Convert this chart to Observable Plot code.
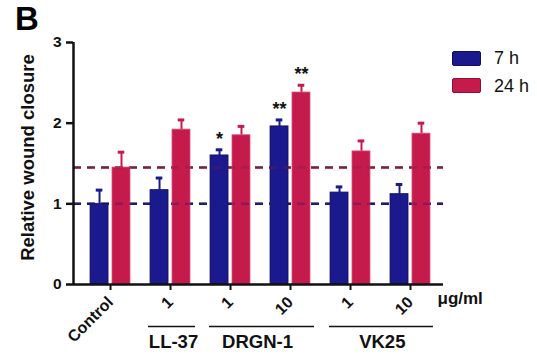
<!DOCTYPE html>
<html><head><meta charset="utf-8">
<script src="https://cdn.jsdelivr.net/npm/d3@7"></script>
<script src="https://cdn.jsdelivr.net/npm/@observablehq/plot@0.6"></script>
<style>
body{margin:0;background:#fff;font-family:"Liberation Sans",Arial,sans-serif;}
#wrap{position:relative;width:537px;height:357px;}
#B{position:absolute;left:15px;top:2px;font-weight:bold;font-size:33px;line-height:33px;z-index:2;}
.lg{position:absolute;left:452px;width:29px;height:15px;border-radius:2px;z-index:2;}
.lt{position:absolute;left:494px;font-size:18px;line-height:18px;color:#111;z-index:2;}
</style></head>
<body><div id="wrap"><div id="B">B</div>
<div class="lg" style="top:51px;background:#1a1a8e;border:1px solid #10105a;box-sizing:border-box"></div>
<div class="lt" style="top:49px">7 h</div>
<div class="lg" style="top:78px;background:#c51a4c;border:1px solid #8a1034;box-sizing:border-box"></div>
<div class="lt" style="top:77px">24 h</div>
</div>
<script>
const categories = ["Control", "1", "1", "10", "1", "10"];
const series = ["7 h", "24 h"];
const mean7 = [1.00, 1.17, 1.60, 1.96, 1.14, 1.12];
const err7  = [1.17, 1.32, 1.67, 2.04, 1.21, 1.24];
const mean24 = [1.45, 1.92, 1.85, 2.38, 1.65, 1.87];
const err24  = [1.64, 2.04, 1.96, 2.47, 1.78, 2.00];
const stars7 = ["", "", "*", "**", "", ""];
const stars24 = ["", "", "", "**", "", ""];
const groups = ["LL-37", "DRGN-1", "VK25"];
const groupStart = [0.633, 1.65, 3.65];
const groupEnd = [1.417, 3.4, 5.383];
const groupLabelX = [1.05, 2.45, 4.53];
const refLines = [1.0, 1.45];
const yTicks = [0, 1, 2, 3];

const blue = "#1a1a8e", red = "#c51a4c";
const rows = [];
categories.forEach((c, i) => {
  rows.push({i, s: 0, v: mean7[i], e: err7[i], star: stars7[i]});
  rows.push({i, s: 1, v: mean24[i], e: err24[i], star: stars24[i]});
});
const cx = d => d.i + (d.s === 0 ? -0.183 : 0.183);
const col = d => d.s === 0 ? blue : red;
const idx = categories.map((c, i) => i);

const chart = Plot.plot({
  width: 537, height: 357,
  marginLeft: 73, marginRight: 94, marginTop: 42, marginBottom: 73,
  style: {fontFamily: "Liberation Sans, Arial, sans-serif", background: "transparent"},
  x: {type: "linear", domain: [-0.617, 5.55], axis: null},
  y: {type: "linear", domain: [0, 3], axis: null},
  marks: [
    Plot.ruleY([refLines[0]], {stroke: "#1c1c6a", strokeWidth: 2.5, strokeDasharray: "8,6"}),
    Plot.ruleY([refLines[1]], {stroke: "#7a2040", strokeWidth: 2.5, strokeDasharray: "8,6"}),
    Plot.ruleX(rows, {x: cx, y1: "v", y2: "e", stroke: col, strokeWidth: 2}),
    Plot.ruleY(rows, {y: "e", x1: d => cx(d) - 0.055, x2: d => cx(d) + 0.055, stroke: col, strokeWidth: 3}),
    Plot.rectY(rows, {x1: d => d.i + (d.s === 0 ? -0.333 : 0.033), x2: d => d.i + (d.s === 0 ? -0.033 : 0.333), y1: d => 0, y2: "v", fill: col, stroke: d => d.s === 0 ? "#10105a" : "#e0507a", strokeWidth: 0.8}),
    Plot.ruleY(refLines.slice(0,1), {stroke: "#1c1c6a", strokeOpacity: 0.35, strokeWidth: 2.5, strokeDasharray: "8,6"}),
    Plot.ruleY(refLines.slice(1), {stroke: "#7a2040", strokeOpacity: 0.35, strokeWidth: 2.5, strokeDasharray: "8,6"}),
    Plot.text(rows, {x: cx, y: "e", text: "star", dy: -11, fontSize: 18, fontWeight: "bold", fill: "#111"}),
    Plot.ruleY([0], {stroke: "#111", strokeWidth: 2.5}),
    Plot.ruleX([-0.617], {stroke: "#111", strokeWidth: 2.5}),
    Plot.axisY({ticks: yTicks, tickSize: 7, tickPadding: 5, fontSize: 15.5, fontWeight: "bold", label: null, tickFormat: d3.format("d"), stroke: "#111", strokeWidth: 2.5, color: "#111"}),
    Plot.axisX({ticks: idx, tickSize: 6, tickFormat: i => categories[i], tickRotate: -45, fontSize: 16, fontWeight: "bold", label: null, stroke: "#111", strokeWidth: 2, tickPadding: 9, color: "#111"}),
    Plot.ruleY(groups.map((g, k) => k), {y: d => 0, dy: 42, x1: k => groupStart[k], x2: k => groupEnd[k], stroke: "#111", strokeWidth: 1.5}),
    Plot.text(groups.map((g, k) => k), {x: k => groupLabelX[k], y: d => 0, dy: 58, text: k => groups[k], fontSize: 18.5, fontWeight: "bold", fill: "#111"}),
    Plot.text(["μg/ml"], {frameAnchor: "bottom-right", dx: -6, dy: 19, text: d => d, fontSize: 17, fontWeight: "bold", fill: "#111", textAnchor: "start"}),
    Plot.text(["Relative wound closure"], {frameAnchor: "left", dx: -45, dy: -6, rotate: -90, text: d => d, fontSize: 18.5, fontWeight: "bold", fill: "#111", textAnchor: "middle"})
  ]
});
document.getElementById("wrap").appendChild(chart);
chart.style.position = "absolute"; chart.style.left = "0"; chart.style.top = "0";
</script></body></html>
